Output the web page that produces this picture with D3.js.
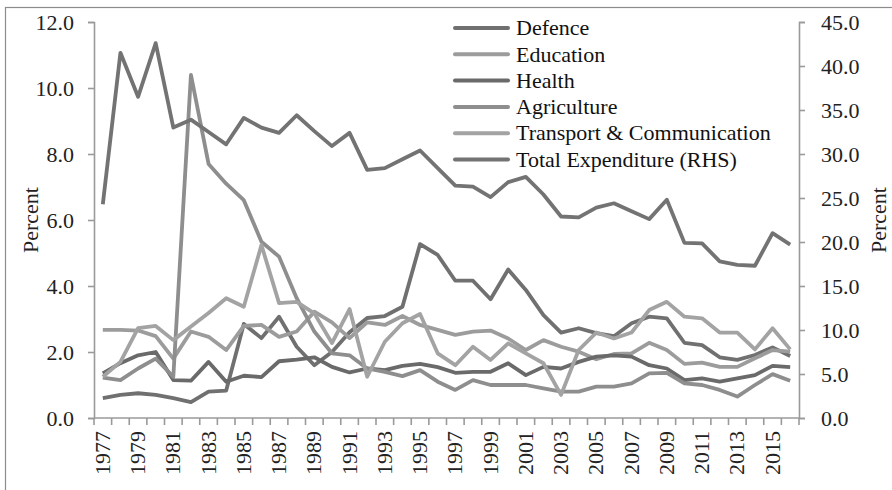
<!DOCTYPE html>
<html>
<head>
<meta charset="utf-8">
<script src="https://cdn.jsdelivr.net/npm/d3@7"></script>
<style>
  body { margin: 0; background: #fff; }
  svg { display: block; font-family: "Liberation Serif", "DejaVu Serif", serif; }
</style>
</head>
<body>
<div id="chart"></div>
<script>
const years = d3.range(1977, 2017);

// left axis series (percent)
const defence = [0.6, 0.7, 0.75, 0.7, 0.6, 0.48, 0.8, 0.83, 2.85, 2.42, 3.07, 2.16, 1.6, 2.0, 2.6, 3.03,
  3.09, 3.37, 5.27, 4.94, 4.16, 4.16, 3.6, 4.5, 3.88, 3.12, 2.59, 2.72, 2.57, 2.48, 2.87, 3.07,
  3.02, 2.28, 2.21, 1.84, 1.76, 1.91, 2.14, 1.88];
const education = [2.67, 2.67, 2.65, 2.48, 1.8, 2.62, 2.46, 2.06, 2.79, 2.82, 2.46, 2.62, 3.22, 2.9, 2.42, 2.9,
  2.82, 3.09, 2.82, 2.67, 2.52, 2.62, 2.65, 2.41, 2.06, 2.36, 2.16, 2.01, 1.78, 1.94, 1.96, 2.28,
  2.06, 1.64, 1.68, 1.55, 1.55, 1.81, 2.06, 2.01];
const health = [1.35, 1.66, 1.9, 2.0, 1.15, 1.13, 1.7, 1.1, 1.28, 1.24, 1.72, 1.77, 1.84, 1.55, 1.38, 1.5,
  1.45, 1.58, 1.64, 1.54, 1.37, 1.4, 1.4, 1.66, 1.3, 1.55, 1.5, 1.7, 1.86, 1.9, 1.86, 1.6,
  1.5, 1.15, 1.2, 1.1, 1.2, 1.3, 1.58, 1.54];
const agriculture = [1.22, 1.15, 1.5, 1.8, 1.25, 10.4, 7.7, 7.1, 6.6, 5.34, 4.89, 3.63, 2.62, 1.96, 1.9, 1.5,
  1.4, 1.27, 1.45, 1.1, 0.85, 1.15, 1.0, 1.0, 1.0, 0.9, 0.8, 0.8, 0.95, 0.95, 1.05, 1.35,
  1.37, 1.05, 1.0, 0.85, 0.65, 1.0, 1.33, 1.13];
const transport = [1.25, 1.7, 2.72, 2.79, 2.36, 2.77, 3.18, 3.63, 3.37, 5.24, 3.48, 3.52, 3.17, 2.27, 3.3, 1.25,
  2.31, 2.87, 3.15, 1.96, 1.6, 2.16, 1.76, 2.26, 1.96, 1.66, 0.7, 2.06, 2.59, 2.41, 2.59, 3.27,
  3.52, 3.07, 3.02, 2.59, 2.59, 2.08, 2.72, 2.08];

// right axis series
const total = [24.3, 41.5, 36.5, 42.6, 33.0, 33.9, 32.5, 31.1, 34.1, 33.0, 32.4, 34.4, 32.6, 30.9, 32.4, 28.2,
  28.4, 29.4, 30.4, 28.4, 26.4, 26.3, 25.1, 26.8, 27.4, 25.4, 22.9, 22.8, 23.9, 24.4, 23.5, 22.6,
  24.8, 19.9, 19.85, 17.8, 17.4, 17.3, 21.0, 19.7];

const leftTicks = [0, 2, 4, 6, 8, 10, 12];
const rightTicks = [0, 5, 10, 15, 20, 25, 30, 35, 40, 45];

const series = [
  { name: "Defence", values: defence, color: "#707070", axis: "left" },
  { name: "Education", values: education, color: "#9c9c9c", axis: "left" },
  { name: "Health", values: health, color: "#6a6a6a", axis: "left" },
  { name: "Agriculture", values: agriculture, color: "#8e8e8e", axis: "left" },
  { name: "Transport & Communication", values: transport, color: "#a3a3a3", axis: "left" },
  { name: "Total Expenditure (RHS)", values: total, color: "#737373", axis: "right" },
];

const width = 892, height = 490;
const m = { top: 22, right: 93, bottom: 72, left: 94 };
const fs = 22;

const svg = d3.select("#chart").append("svg")
  .attr("width", width)
  .attr("height", height);

// outer frame
svg.append("rect")
  .attr("x", 5.5).attr("y", 7.5)
  .attr("width", 900).attr("height", 500)
  .attr("fill", "none").attr("stroke", "#8c8c8c").attr("stroke-width", 1.2);

const x = d3.scaleBand().domain(years).range([m.left, width - m.right]).padding(0);
const yL = d3.scaleLinear().domain([0, 12]).range([height - m.bottom, m.top]);
const yR = d3.scaleLinear().domain([0, 45]).range([height - m.bottom, m.top]);
const cx = (i) => x(years[i]) + x.bandwidth() / 2;

const axisColor = "#9a9a9a";
const styleAxis = (g) => {
  g.select(".domain").attr("stroke", axisColor).attr("stroke-width", 1.6);
  g.selectAll(".tick line").attr("stroke", axisColor).attr("stroke-width", 1.6);
  g.selectAll(".tick text").attr("fill", "#222").attr("font-size", fs)
    .attr("font-family", "Liberation Serif, serif");
};

svg.append("g")
  .attr("transform", `translate(${m.left},0)`)
  .call(d3.axisLeft(yL).tickValues(leftTicks).tickFormat(d3.format(".1f")).tickSize(6).tickPadding(14).tickSizeOuter(6))
  .call(styleAxis);

svg.append("g")
  .attr("transform", `translate(${width - m.right},0)`)
  .call(d3.axisRight(yR).tickValues(rightTicks).tickFormat(d3.format(".1f")).tickSize(6).tickPadding(16).tickSizeOuter(6))
  .call(styleAxis);

// bottom axis: ticks on band edges, labels every other year
const xg = svg.append("g").attr("transform", `translate(0,${height - m.bottom})`);
xg.append("line")
  .attr("x1", m.left).attr("x2", width - m.right)
  .attr("stroke", axisColor).attr("stroke-width", 1.6);
xg.selectAll(".edge")
  .data(years.concat([2017]))
  .join("line")
  .attr("x1", (d, i) => m.left + i * x.bandwidth())
  .attr("x2", (d, i) => m.left + i * x.bandwidth())
  .attr("y1", 0).attr("y2", 7)
  .attr("stroke", axisColor).attr("stroke-width", 1.6);
xg.selectAll(".yr")
  .data(years.filter((d) => (d - 1977) % 2 === 0))
  .join("text")
  .attr("transform", (d) => `translate(${x(d) + x.bandwidth() / 2 + 7},13) rotate(-90)`)
  .attr("text-anchor", "end")
  .attr("font-size", fs)
  .attr("fill", "#222")
  .text((d) => d);

// axis titles
svg.append("text")
  .attr("transform", `translate(38,${(m.top + height - m.bottom) / 2}) rotate(-90)`)
  .attr("text-anchor", "middle").attr("font-size", fs).attr("fill", "#222")
  .text("Percent");
svg.append("text")
  .attr("transform", `translate(886,${(m.top + height - m.bottom) / 2}) rotate(-90)`)
  .attr("text-anchor", "middle").attr("font-size", fs).attr("fill", "#222")
  .text("Percent");

// lines
series.forEach((s) => {
  const y = s.axis === "left" ? yL : yR;
  const line = d3.line().x((d, i) => cx(i)).y((d) => y(d));
  svg.append("path")
    .datum(s.values)
    .attr("d", line)
    .attr("fill", "none")
    .attr("stroke", s.color)
    .attr("stroke-width", 3.8)
    .attr("stroke-linejoin", "round");
});

// legend
const lg = svg.append("g").attr("transform", "translate(455,28)");
const row = lg.selectAll("g").data(series).join("g")
  .attr("transform", (d, i) => `translate(0,${i * 26.3})`);
row.append("line")
  .attr("x1", 0).attr("x2", 53)
  .attr("stroke", (d) => d.color).attr("stroke-width", 4).attr("stroke-linecap", "round");
row.append("text")
  .attr("x", 61).attr("dy", "0.33em")
  .attr("font-size", fs).attr("fill", "#111")
  .text((d) => d.name);
</script>
</body>
</html>
